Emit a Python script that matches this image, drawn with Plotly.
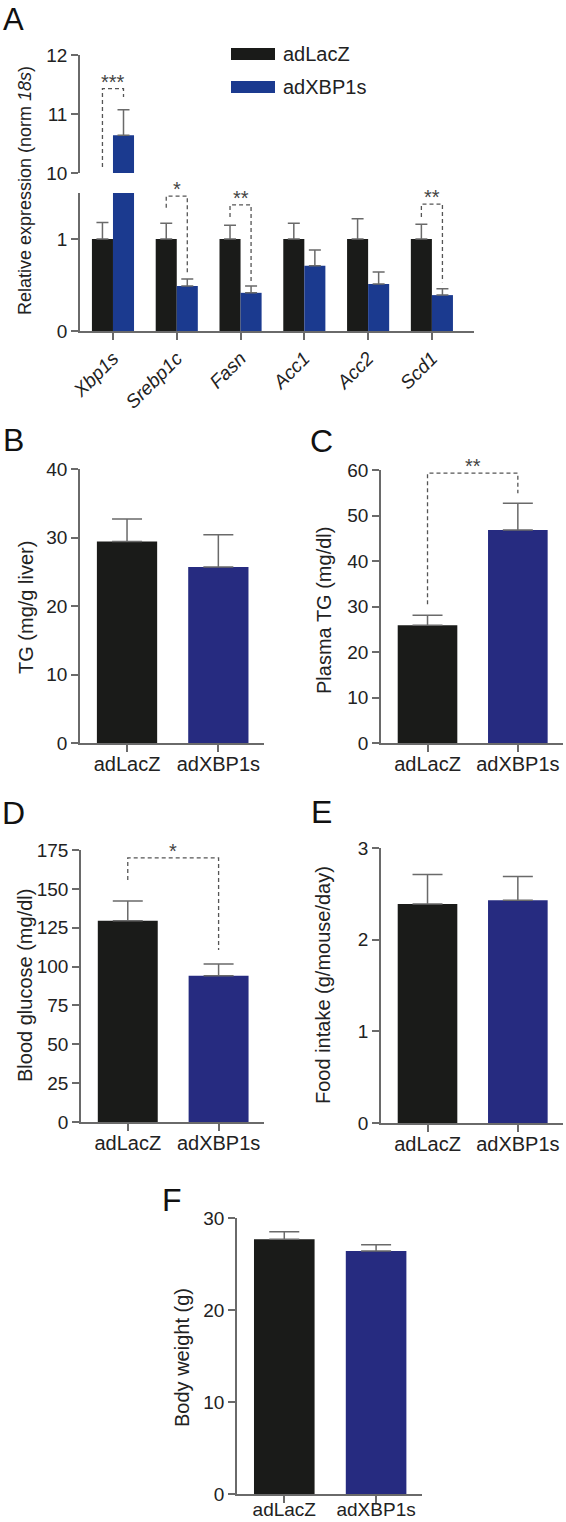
import plotly.graph_objects as go

W, H = 566, 1522

# ---------------- data ----------------
genes = ["Xbp1s", "Srebp1c", "Fasn", "Acc1", "Acc2", "Scd1"]
a_lacz = [1.0, 1.0, 1.0, 1.0, 1.0, 1.0]
a_lacz_err = [0.18, 0.17, 0.15, 0.17, 0.22, 0.16]
a_xbp = [10.64, 0.49, 0.415, 0.71, 0.51, 0.39]
a_xbp_err = [0.43, 0.075, 0.075, 0.17, 0.13, 0.07]

groups = ["adLacZ", "adXBP1s"]
b_tg = [29.4, 25.7]
b_err = [3.3, 4.7]
c_ptg = [25.9, 46.8]
c_err = [2.2, 5.9]
d_glc = [129.5, 94.1]
d_err = [12.7, 7.6]
e_food = [2.39, 2.43]
e_err = [0.32, 0.26]
f_bw = [27.7, 26.4]
f_err = [0.8, 0.7]

# ---------------- style ----------------
BLACK = "#1a1b19"
BLUE_A = "#1b3a8f"
BLUE = "#262b80"
GRAY = "#6a6a6a"
TXT = "#222222"
FONT = "Liberation Sans, Arial, sans-serif"


def xd(p0, p1):
    return [p0 / W, p1 / W]


def yd(top, bottom):
    return [1 - bottom / H, 1 - top / H]


def axstyle(**kw):
    d = dict(showline=True, linecolor=GRAY, linewidth=1.5, ticks="outside",
             ticklen=7, tickwidth=1.5, tickcolor=GRAY, showgrid=False,
             zeroline=False, tickfont=dict(size=19, color=TXT, family=FONT),
             fixedrange=True, automargin=False)
    d.update(kw)
    return d


fig = go.Figure()

# ---------------- panel A (broken axis) ----------------
ia = list(range(len(genes)))
for xa, ya in (("x", "y"), ("x2", "y2")):
    fig.add_trace(go.Bar(x=ia, y=a_lacz, xaxis=xa, yaxis=ya, marker_color=BLACK,
                         marker_line_width=0, showlegend=False,
                         error_y=dict(type="data", symmetric=False, array=a_lacz_err,
                                      arrayminus=[0] * len(genes), color=GRAY,
                                      thickness=1.5, width=6)))
    fig.add_trace(go.Bar(x=ia, y=a_xbp, xaxis=xa, yaxis=ya, marker_color=BLUE_A,
                         marker_line_width=0, showlegend=False,
                         error_y=dict(type="data", symmetric=False, array=a_xbp_err,
                                      arrayminus=[0] * len(genes), color=GRAY,
                                      thickness=1.5, width=6)))

# ---------------- panels B-F ----------------
simple = [
    ("x3", "y3", b_tg, b_err),
    ("x4", "y4", c_ptg, c_err),
    ("x5", "y5", d_glc, d_err),
    ("x6", "y6", e_food, e_err),
    ("x7", "y7", f_bw, f_err),
]
ig = list(range(len(groups)))
for xa, ya, vals, errs in simple:
    fig.add_trace(go.Bar(x=ig, y=vals, xaxis=xa, yaxis=ya,
                         marker_color=[BLACK, BLUE], marker_line_width=0,
                         showlegend=False,
                         error_y=dict(type="data", symmetric=False, array=errs,
                                      arrayminus=[0] * len(groups), color=GRAY,
                                      thickness=1.5, width=15)))

a_ticktext = ["<i>%s</i>" % g for g in genes]


def grp_x(standoff=-5, size=20):
    return dict(tickvals=ig, ticktext=groups, range=[-0.515, 1.5],
                ticklabelstandoff=standoff,
                tickfont=dict(size=size, color=TXT, family=FONT))


layout = dict(
    template="none",
    width=W, height=H, margin=dict(l=0, r=0, t=0, b=0, pad=0),
    paper_bgcolor="white", plot_bgcolor="white",
    barmode="group", bargap=0.34, bargroupgap=0,
    font=dict(family=FONT, color=TXT),
    xaxis=axstyle(domain=xd(80, 474), anchor="y", range=[-0.517, 5.66],
                  tickvals=ia, ticktext=a_ticktext, tickangle=-45,
                  tickfont=dict(size=19, color=TXT, family=FONT)),
    yaxis=axstyle(domain=yd(193, 331), anchor="x", range=[0, 1.5],
                  tickvals=[0, 1]),
    xaxis2=dict(domain=xd(80, 474), anchor="y2", range=[-0.517, 5.66],
                visible=False, fixedrange=True, automargin=False),
    yaxis2=axstyle(domain=yd(55, 173), anchor="x2", range=[10, 12],
                   tickvals=[10, 11, 12]),
    xaxis3=axstyle(domain=xd(80, 264), anchor="y3", **grp_x()),
    yaxis3=axstyle(domain=yd(469, 743), anchor="x3", range=[0, 40],
                   tickvals=[0, 10, 20, 30, 40]),
    xaxis4=axstyle(domain=xd(381, 563), anchor="y4", **grp_x()),
    yaxis4=axstyle(domain=yd(470, 743), anchor="x4", range=[0, 60],
                   tickvals=[0, 10, 20, 30, 40, 50, 60]),
    xaxis5=axstyle(domain=xd(81, 264), anchor="y5", **grp_x()),
    yaxis5=axstyle(domain=yd(850, 1122), anchor="x5", range=[0, 175],
                   tickvals=[0, 25, 50, 75, 100, 125, 150, 175]),
    xaxis6=axstyle(domain=xd(381, 563), anchor="y6", **grp_x()),
    yaxis6=axstyle(domain=yd(848, 1123), anchor="x6", range=[0, 3],
                   tickvals=[0, 1, 2, 3]),
    xaxis7=axstyle(domain=xd(237, 422), anchor="y7", **grp_x(-10, 19)),
    yaxis7=axstyle(domain=yd(1218, 1494), anchor="x7", range=[0, 30],
                   tickvals=[0, 10, 20, 30]),
)
fig.update_layout(**layout)

# ---------------- significance brackets ----------------
off = 0.165
brackets = [
    # xref, yref, x_left, x_right, y_left_start, y_top, y_right_end, label
    ("x2", "y2", 0 - off, 0 + off, 10.1, 11.43, 11.29, "***"),
    ("x", "y", 1 - off, 1 + off, 1.34, 1.467, 0.62, "*"),
    ("x", "y", 2 - off, 2 + off, 1.24, 1.37, 0.53, "**"),
    ("x", "y", 5 - off, 5 + off, 1.24, 1.38, 0.53, "**"),
    ("x4", "y4", 0, 1, 30.5, 59.3, 54.9, "**"),
    ("x5", "y5", 0, 1, 155.7, 169.9, 110.7, "*"),
]
shapes = []
annotations = []
for xr, yr, x0, x1, yl, yt, yrr, lab in brackets:
    shapes.append(dict(type="path", xref=xr, yref=yr,
                       path="M %f,%f L %f,%f L %f,%f L %f,%f" % (x0, yl, x0, yt, x1, yt, x1, yrr),
                       line=dict(color="#555555", width=1.3, dash="4px,3px")))
    annotations.append(dict(xref=xr, yref=yr, x=(x0 + x1) / 2, y=yt, text=lab,
                            showarrow=False, xanchor="center", yanchor="middle",
                            yshift=7, font=dict(size=20, color="#444444", family=FONT)))

# ---------------- legend (panel A) ----------------
for (top, col, lab) in ((48, BLACK, "adLacZ"), (81, BLUE_A, "adXBP1s")):
    shapes.append(dict(type="rect", xref="paper", yref="paper",
                       x0=231 / W, x1=275 / W, y0=1 - (top + 12) / H, y1=1 - top / H,
                       fillcolor=col, line=dict(width=0)))
    annotations.append(dict(xref="paper", yref="paper", x=281 / W, y=1 - (top + 6) / H,
                            text=lab, showarrow=False, xanchor="left", yanchor="middle",
                            font=dict(size=20, color=TXT, family=FONT)))

# ---------------- y-axis titles ----------------
ytitles = [
    (25, 191, "Relative expression (norm <i>18s</i>)", 18),
    (26, 608, "TG (mg/g liver)", 20),
    (324, 611, "Plasma TG (mg/dl)", 20),
    (25, 986, "Blood glucose (mg/dl)", 20),
    (323, 985, "Food intake (g/mouse/day)", 20),
    (182, 1358, "Body weight (g)", 20),
]
for px, py, t, fs in ytitles:
    annotations.append(dict(xref="paper", yref="paper", x=px / W, y=1 - py / H,
                            text=t, textangle=-90, showarrow=False,
                            xanchor="center", yanchor="middle",
                            font=dict(size=fs, color=TXT, family=FONT)))

# ---------------- panel letters ----------------
annotations.append(dict(xref="paper", yref="paper", x=13 / W, y=1.0,
                        text="A", showarrow=False, xanchor="center", yanchor="top",
                        font=dict(size=31, color="#111111", family=FONT)))
letters = [(13, 440, "B"), (321, 441, "C"), (13, 813, "D"),
           (321, 812, "E"), (172, 1200, "F")]
for px, py, t in letters:
    annotations.append(dict(xref="paper", yref="paper", x=px / W, y=1 - py / H,
                            text=t, showarrow=False, xanchor="center", yanchor="middle",
                            font=dict(size=32, color="#111111", family=FONT)))

fig.update_layout(shapes=shapes, annotations=annotations)
fig.write_html("out.html", config={"displayModeBar": False},
               post_script="document.body.style.margin='0';document.body.style.overflow='hidden';")
